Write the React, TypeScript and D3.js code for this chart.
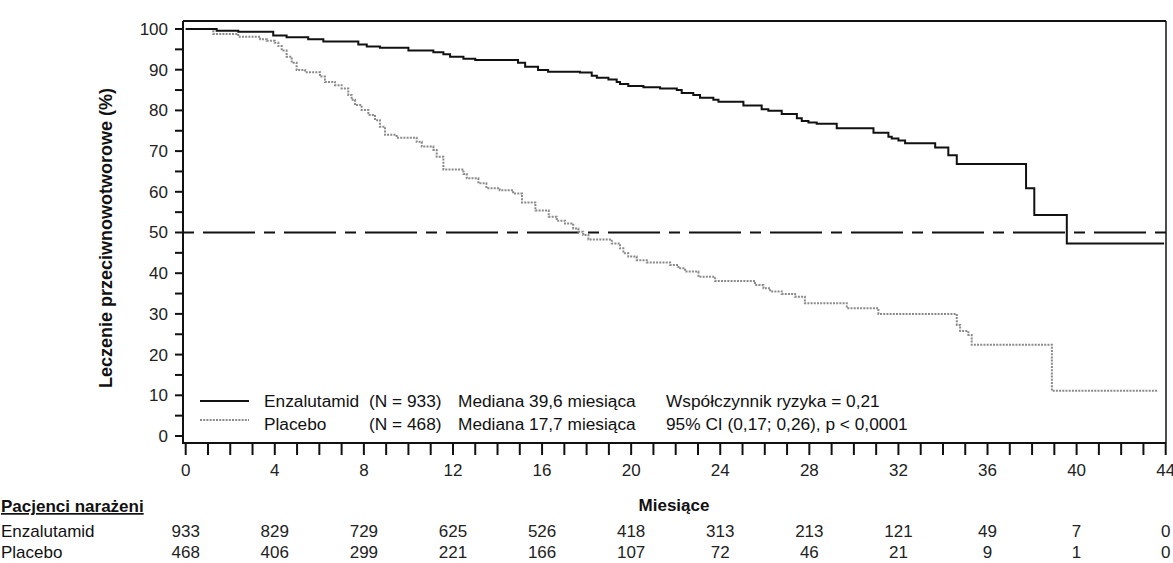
import React from "react"
import * as d3 from "d3"

// Kaplan-Meier step points: [month, percent]
const enzaSteps: [number, number][] = [
  [0, 100], [1.39, 99.6], [2.36, 99.3], [3.93, 98.4], [4.53, 97.95], [5.5, 97.5], [6.18, 96.9],
  [7.75, 96.2], [8.13, 95.7], [8.72, 95.4], [10.0, 94.7], [11.12, 94.3], [11.57, 93.8], [11.87, 93.2],
  [12.47, 92.7], [13.0, 92.4], [14.92, 91.7], [15.24, 90.7], [15.82, 89.9], [16.27, 89.5], [17.7, 89.3],
  [18.23, 88.5], [18.46, 88.0], [18.98, 87.6], [19.35, 87.0], [19.5, 86.5], [19.87, 86.0], [20.55, 85.7],
  [21.3, 85.4], [22.05, 85.0], [22.27, 84.3], [22.79, 83.8], [23.09, 83.1], [23.69, 82.6], [23.92, 82.1],
  [25.04, 81.2], [25.86, 80.3], [26.16, 79.9], [26.76, 79.1], [27.44, 78.1], [27.66, 77.4], [27.96, 77.0],
  [28.33, 76.7], [29.23, 75.6], [30.88, 74.5], [31.55, 73.5], [31.7, 73.1], [32.0, 72.6], [32.3, 71.9],
  [33.65, 70.9], [34.24, 69.0], [34.62, 66.8], [37.73, 60.9], [38.1, 54.3], [39.56, 47.3], [43.93, 47.3],
]

const placeboSteps: [number, number][] = [
  [0, 100], [1.24, 98.8], [2.36, 98.1], [3.34, 97.5], [3.64, 97.1], [4.0, 96.6], [4.16, 95.8],
  [4.31, 94.7], [4.53, 93.2], [4.76, 91.7], [4.98, 89.9], [5.36, 89.4], [6.03, 88.3], [6.25, 87.0],
  [6.7, 86.2], [7.0, 85.4], [7.3, 83.8], [7.45, 82.6], [7.6, 81.3], [7.9, 80.1], [8.2, 78.9], [8.5, 77.6],
  [8.72, 76.0], [8.95, 74.0], [9.47, 73.3], [10.37, 72.3], [10.6, 71.1], [11.12, 70.3], [11.27, 68.6],
  [11.57, 65.5], [12.47, 64.4], [12.62, 63.3], [13.14, 62.1], [13.5, 60.9], [14.1, 60.4], [14.7, 59.6],
  [15.1, 57.4], [15.7, 55.4], [16.3, 53.9], [16.66, 52.9], [17.03, 52.2], [17.4, 51.0], [17.63, 50.2],
  [17.85, 49.4], [18.08, 48.3], [19.13, 47.3], [19.5, 46.1], [19.65, 44.9], [19.87, 44.1], [20.25, 43.2],
  [20.7, 42.6], [21.75, 42.0], [22.12, 41.2], [22.42, 40.4], [23.02, 39.1], [23.77, 38.1], [25.56, 37.1],
  [25.94, 36.3], [26.24, 35.5], [26.76, 34.9], [27.36, 34.2], [27.8, 32.6], [29.68, 31.4], [31.1, 30.0],
  [34.62, 27.3], [34.77, 25.8], [35.14, 24.8], [35.29, 22.4], [38.89, 11.1], [43.67, 11.1],
]

// patients at risk, every 4 months
const riskMonths = [0, 4, 8, 12, 16, 20, 24, 28, 32, 36, 40, 44]
const enzaAtRisk = [933, 829, 729, 625, 526, 418, 313, 213, 121, 49, 7, 0]
const placeboAtRisk = [468, 406, 299, 221, 166, 107, 72, 46, 21, 9, 1, 0]

const FONT = "'Liberation Sans', Arial, sans-serif"

export default function App() {
  const x = d3.scaleLinear().domain([0, 44]).range([185.7, 1165.7])
  const y = d3.scaleLinear().domain([0, 100]).range([436, 29])

  const line = d3
    .line<[number, number]>()
    .x(d => x(d[0]))
    .y(d => y(d[1]))
    .curve(d3.curveStepAfter)

  const axisX = 183 // left frame
  const axisY = 443 // bottom frame
  const right = 1166
  const top = 21

  const yTicks = d3.range(0, 101, 5)
  const xTicks = d3.range(0, 45, 1)

  return (
    <svg
      width={1173}
      height={563}
      style={{ position: "absolute", left: 0, top: 0, background: "#fff" }}
      fontFamily={FONT}
    >
      {/* frame */}
      <line x1={axisX} x2={right} y1={top} y2={top} stroke="#111" strokeWidth={1.8} />
      <line x1={right} x2={right} y1={top} y2={axisY} stroke="#111" strokeWidth={1.5} />
      <line x1={axisX} x2={axisX} y1={top} y2={axisY + 1} stroke="#111" strokeWidth={2} />
      <line x1={axisX} x2={right} y1={axisY} y2={axisY} stroke="#111" strokeWidth={2} />

      {/* y ticks */}
      {yTicks.map(t => (
        <line key={"yt" + t} x1={axisX - 8} x2={axisX} y1={y(t)} y2={y(t)} stroke="#111" strokeWidth={2} />
      ))}
      {yTicks.filter(t => t % 10 === 0).map(t => (
        <text key={"yl" + t} x={168} y={y(t)} dy="0.35em" textAnchor="end" fontSize={17} fill="#222">
          {t}
        </text>
      ))}

      {/* x ticks */}
      {xTicks.map(t => (
        <line key={"xt" + t} x1={x(t)} x2={x(t)} y1={axisY} y2={axisY + 12} stroke="#111" strokeWidth={2} />
      ))}
      {xTicks.filter(t => t % 4 === 0).map(t => (
        <text key={"xl" + t} x={x(t)} y={476} textAnchor="middle" fontSize={17} fill="#222">
          {t}
        </text>
      ))}

      {/* median reference line */}
      <line
        x1={axisX}
        x2={right}
        y1={y(50)}
        y2={y(50)}
        stroke="#111"
        strokeWidth={2}
        strokeDasharray="11,9,52,9"
      />

      {/* curves */}
      <path d={line(placeboSteps) || ""} fill="none" stroke="#8a8a8a" strokeWidth={2} strokeDasharray="2,1.2" />
      <path d={line(enzaSteps) || ""} fill="none" stroke="#111" strokeWidth={2} />

      {/* y axis title */}
      <text
        transform="translate(112,238) rotate(-90)"
        textAnchor="middle"
        fontSize={18}
        fontWeight="bold"
        fill="#111"
      >
        Leczenie przeciwnowotworowe (%)
      </text>

      {/* legend */}
      <g fontSize={17.3} fill="#111">
        <line x1={200} x2={249} y1={401} y2={401} stroke="#111" strokeWidth={2} />
        <line x1={200} x2={249} y1={420} y2={420} stroke="#8a8a8a" strokeWidth={2} strokeDasharray="2,1.2" />
        <text x={264} y={407}>Enzalutamid</text>
        <text x={369} y={407}>(N = 933)</text>
        <text x={458} y={407}>Mediana 39,6 miesiąca</text>
        <text x={666} y={407}>Współczynnik ryzyka = 0,21</text>
        <text x={264} y={430}>Placebo</text>
        <text x={369} y={430}>(N = 468)</text>
        <text x={458} y={430}>Mediana 17,7 miesiąca</text>
        <text x={666} y={430}>95% CI (0,17; 0,26), p &lt; 0,0001</text>
      </g>

      {/* x axis title and risk table */}
      <text x={674} y={511} textAnchor="middle" fontSize={17} fontWeight="bold" fill="#111">
        Miesiące
      </text>
      <text x={1} y={512} fontSize={17} fontWeight="bold" fill="#111" textDecoration="underline">
        Pacjenci narażeni
      </text>
      <text x={1} y={537} fontSize={17} fill="#111">Enzalutamid</text>
      <text x={1} y={558} fontSize={17} fill="#111">Placebo</text>
      {riskMonths.map((m, i) => (
        <text key={"re" + m} x={x(m)} y={537} textAnchor="middle" fontSize={17} fill="#222">
          {enzaAtRisk[i]}
        </text>
      ))}
      {riskMonths.map((m, i) => (
        <text key={"rp" + m} x={x(m)} y={558} textAnchor="middle" fontSize={17} fill="#222">
          {placeboAtRisk[i]}
        </text>
      ))}
    </svg>
  )
}
